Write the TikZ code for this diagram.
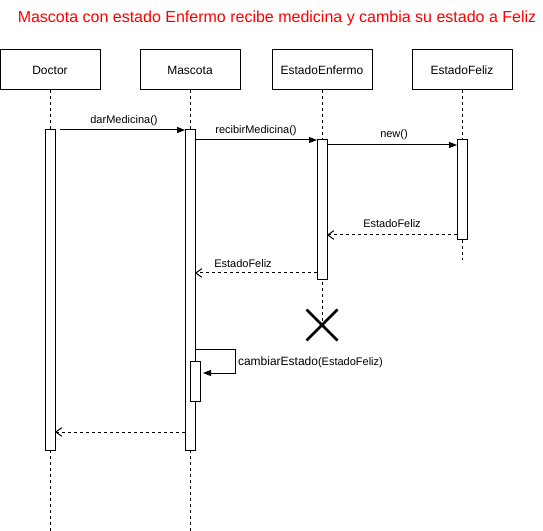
\documentclass[tikz,border=0pt]{standalone}
\usepackage{fontspec}
\setmainfont{Liberation Sans}
\usetikzlibrary{arrows.meta,calc}
\begin{document}
\begin{tikzpicture}[x=0.75pt,y=-0.75pt,
  every node/.style={inner sep=0pt,outer sep=0pt},
  lane/.style={draw,line width=0.75pt,minimum width=75pt,minimum height=30pt,font=\fontsize{9}{10}\selectfont},
  actbar/.style={draw,line width=0.75pt,fill=white,minimum width=7.5pt},
  life/.style={line width=0.75pt,dash pattern=on 2.25pt off 2.25pt},
  call/.style={line width=0.75pt,-{Triangle[length=6pt,width=4.5pt]}},
  ret/.style={line width=0.75pt,dash pattern=on 2.25pt off 2.25pt,-{Straight Barb[length=4.5pt,width=6.5pt,line width=0.75pt]}},
  lbl/.style={font=\fontsize{8.25}{9}\selectfont}]
\useasboundingbox (0,0) rectangle (543,531);
\node[text=red,font=\fontsize{12}{14}\selectfont] (title) at (277,18) {Mascota con estado Enfermo recibe medicina y cambia su estado a Feliz};
% lifeline heads
\node[lane] (doc) at (50,70) {Doctor};
\node[lane] (mas) at (190,70) {Mascota};
\node[lane] (enf) at (322,70) {EstadoEnfermo};
\node[lane] (fel) at (462,70) {EstadoFeliz};
% bottom / end coordinates
\coordinate (docEnd) at (50,531);
\coordinate (masEnd) at (190,531);
\coordinate (felEnd) at (462,260);
% destroy mark
\node[minimum size=23.25pt] (kill) at (322,325) {};
% lifelines (behind bars)
\draw[life] (doc.south) -- (docEnd);
\draw[life] (mas.south) -- (masEnd);
\draw[life] (enf.south) -- (kill.center);
\draw[life] (fel.south) -- (felEnd);
\draw[line width=2pt] (kill.north west) -- (kill.south east) (kill.north east) -- (kill.south west);
% activation bars
\node[actbar,minimum height=240pt] (dA) at (50,290) {};
\node[actbar,minimum height=240pt] (mA) at (190,290) {};
\node[actbar,minimum height=105pt] (eA) at (322,210) {};
\node[actbar,minimum height=75pt] (fA) at (462,190) {};
\node[actbar,minimum height=30pt] (nA) at (195,381) {};
% messages
\draw[call] ($(dA.north east)+(5,0)$) -- (mA.north west);
\node[lbl] (l1) at (124,121) {darMedicina()};
\draw[call] (mA.east |- eA.north) -- (eA.north west);
\node[lbl] (l2) at (256,131) {recibirMedicina()};
\draw[call] ($(eA.north east)+(0,5)$) -- ($(fA.north west)+(0,5)$);
\node[lbl] (l3) at (394,135) {new()};
\coordinate (r1) at ($(fA.south west)+(0,-5)$);
\draw[ret] (r1) -- (eA.east |- r1);
\node[lbl] (l4) at (392,224) {EstadoFeliz};
\coordinate (r2) at ($(eA.south west)+(0,-7)$);
\draw[ret] (r2) -- (mA.east |- r2);
\node[lbl] (l5) at (243,264) {EstadoFeliz};
\coordinate (s1) at (mA.east |- 0,349);
\coordinate (s2) at (nA.east |- 0,373);
\draw[call] (s1) -- ++(40,0) |- ($(s2)+(3,0)$);
\node[anchor=west] (l6) at (238,362) {\fontsize{9}{10}\selectfont cambiarEstado\fontsize{8.25}{9}\selectfont(EstadoFeliz)};
\coordinate (r3) at (mA.west |- 0,432);
\draw[ret] (r3) -- (dA.east |- r3);
\end{tikzpicture}
\end{document}
